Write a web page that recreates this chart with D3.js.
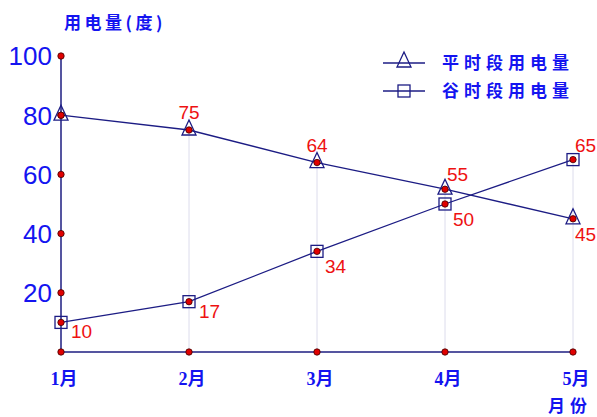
<!DOCTYPE html>
<html>
<head>
<meta charset="utf-8">
<script src="https://cdn.jsdelivr.net/npm/d3@7"></script>
<style>
  body { margin: 0; background: #fff; }
  svg { display: block; }
  .cjk { font-family: "Noto Sans CJK SC", "Liberation Sans", sans-serif; font-weight: bold; }
</style>
</head>
<body>
<svg id="chart" width="597" height="417"></svg>
<script>
// data
var months = ["1月", "2月", "3月", "4月", "5月"];
var peak = [80, 75, 64, 55, 45];      // 平时段用电量
var valley = [10, 17, 34, 50, 65];    // 谷时段用电量
var yTicks = [20, 40, 60, 80, 100];
var seriesNames = ["平时段用电量", "谷时段用电量"];
// where each value label sits relative to its point
var peakLabelPos = ["none", "above", "above", "aboveRight", "belowRight"];
var valleyLabelPos = ["right", "right", "belowRight", "belowRight", "aboveRight"];

var svg = d3.select("#chart");
var lineColor = "#1c1c84";
var axisColor = "#5555a0";
var blue = "#1414f0";

var x = d3.scalePoint().domain(months).range([61, 573]);
var y = d3.scaleLinear().domain([0, 100]).range([352, 56]);

// light guide lines from axis up to points
months.forEach(function (m, i) {
  if (i === 0) return;
  var top = Math.min(y(peak[i]), y(valley[i]));
  svg.append("line")
    .attr("x1", x(m)).attr("x2", x(m))
    .attr("y1", y(0)).attr("y2", top)
    .attr("stroke", "#dcdcec").attr("stroke-width", 1);
});

// axes
svg.append("line").attr("x1", x(months[0])).attr("x2", x(months[0]))
  .attr("y1", y(0)).attr("y2", y(100))
  .attr("stroke", axisColor).attr("stroke-width", 2);
svg.append("line").attr("x1", x(months[0])).attr("x2", x(months[4]))
  .attr("y1", y(0)).attr("y2", y(0))
  .attr("stroke", axisColor).attr("stroke-width", 2);

// y tick labels
svg.selectAll(".ytl").data(yTicks).enter().append("text")
  .attr("x", 52).attr("y", function (d) { return y(d); })
  .attr("dy", "0.36em")
  .attr("text-anchor", "end")
  .attr("font-family", "Liberation Sans, Arial, sans-serif")
  .attr("font-size", 26)
  .attr("fill", blue)
  .text(function (d) { return d; });

// x tick labels
svg.selectAll(".xtl").data(months).enter().append("text")
  .attr("x", function (d) { return x(d) + 3; })
  .attr("y", 385)
  .attr("text-anchor", "middle")
  .attr("font-family", "Liberation Serif, Noto Sans CJK SC, serif")
  .attr("font-weight", "bold")
  .attr("font-size", 18)
  .attr("fill", blue)
  .text(function (d) { return d; });

// axis titles
svg.append("text").attr("class", "cjk")
  .attr("x", 64).attr("y", 29)
  .attr("font-size", 17).attr("fill", blue)
  .attr("letter-spacing", 3.5)
  .text("用电量(度)");
svg.append("text").attr("class", "cjk")
  .attr("x", 548).attr("y", 412)
  .attr("font-size", 17).attr("fill", blue)
  .text("月").append("tspan").attr("dx", 5).text("份");

var line = d3.line()
  .x(function (d, i) { return x(months[i]); })
  .y(function (d) { return y(d); });

svg.append("path").datum(peak).attr("d", line)
  .attr("fill", "none").attr("stroke", lineColor).attr("stroke-width", 1.3);
svg.append("path").datum(valley).attr("d", line)
  .attr("fill", "none").attr("stroke", lineColor).attr("stroke-width", 1.3);

function triangle(g, cx, cy) {
  g.append("path")
    .attr("d", "M" + cx + "," + (cy - 10) + "L" + (cx + 7) + "," + (cy + 5) + "L" + (cx - 7) + "," + (cy + 5) + "Z")
    .attr("fill", "none").attr("stroke", lineColor).attr("stroke-width", 1.3);
}
function square(g, cx, cy) {
  g.append("rect")
    .attr("x", cx - 6).attr("y", cy - 6).attr("width", 12).attr("height", 12)
    .attr("fill", "none").attr("stroke", lineColor).attr("stroke-width", 1.3);
}

peak.forEach(function (v, i) { triangle(svg, x(months[i]), y(v)); });
valley.forEach(function (v, i) { square(svg, x(months[i]), y(v)); });

// red dots: on axes and on data points
function dot(cx, cy) {
  svg.append("circle").attr("cx", cx).attr("cy", cy).attr("r", 3.2)
    .attr("fill", "#e00000").attr("stroke", "#400000").attr("stroke-width", 0.8);
}
yTicks.forEach(function (t) { dot(x(months[0]), y(t)); });
months.forEach(function (m) { dot(x(m), y(0)); });
peak.forEach(function (v, i) { dot(x(months[i]), y(v)); });
valley.forEach(function (v, i) { dot(x(months[i]), y(v)); });

// value labels
var offsets = {
  above: [0, -11, "middle"],
  aboveRight: [2, -8, "start"],
  belowRight: [8, 22, "start"],
  right: [10, 16, "start"]
};
function labels(vals, pos) {
  vals.forEach(function (v, i) {
    if (pos[i] === "none") return;
    var o = offsets[pos[i]];
    var dx = o[0];
    if (i === 4) dx = Math.min(dx, 2);
    svg.append("text")
      .attr("x", x(months[i]) + dx).attr("y", y(v) + o[1])
      .attr("text-anchor", o[2])
      .attr("font-family", "Liberation Sans, Arial, sans-serif")
      .attr("font-size", 19).attr("fill", "#ee1111")
      .text(v);
  });
}
labels(peak, peakLabelPos);
labels(valley, valleyLabelPos);

// legend
var legend = svg.append("g");
seriesNames.forEach(function (name, i) {
  var ly = 63 + i * 28;
  legend.append("line").attr("x1", 383).attr("x2", 425)
    .attr("y1", ly).attr("y2", ly)
    .attr("stroke", lineColor).attr("stroke-width", 1.3);
  if (i === 0) triangle(legend, 404, ly - 1); else square(legend, 404, ly);
  legend.append("text").attr("class", "cjk")
    .attr("x", 442).attr("y", ly + 6)
    .attr("font-size", 17).attr("fill", blue)
    .attr("letter-spacing", 5)
    .text(name);
});
</script>
</body>
</html>
